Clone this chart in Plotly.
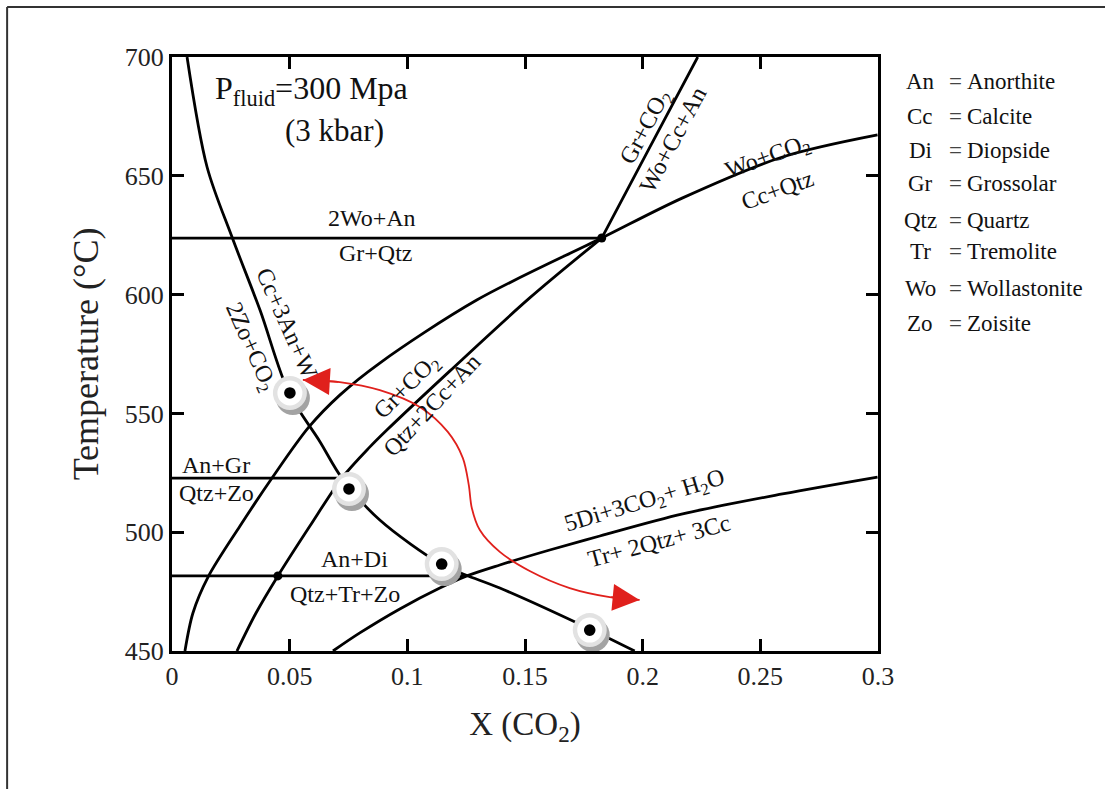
import plotly.graph_objects as go

# ---------------- data (X(CO2), Temperature °C) ----------------
zo_x = [0.0064, 0.0149, 0.0255, 0.0374, 0.0497, 0.0628, 0.0722, 0.0883, 0.1142, 0.1248, 0.1393, 0.1775, 0.1966]
zo_t = [700, 653.7, 624.2, 593.5, 558.6, 538.2, 522.8, 505.1, 486.6, 482.0, 476.5, 459.3, 450]

wo_x = [0.0055, 0.0089, 0.0153, 0.0289, 0.0425, 0.0582, 0.0713, 0.0883, 0.1295, 0.1826, 0.2170, 0.2594, 0.2998]
wo_t = [450, 466.0, 481.1, 502.6, 522.8, 544.3, 557.7, 571.2, 597.7, 623.8, 640.7, 657.9, 667.2]

gr_x = [0.0276, 0.0357, 0.0450, 0.0586, 0.0722, 0.0841, 0.0913, 0.1180, 0.1520, 0.1826]
gr_t = [450, 466.0, 481.6, 502.6, 522.8, 535.9, 543.0, 567.8, 598.6, 623.8]

up_x = [0.1826, 0.2030, 0.2234]
up_t = [623.8, 662.0, 700]

di_x = [0.0684, 0.0798, 0.0968, 0.1138, 0.1253, 0.1393, 0.1605, 0.1818, 0.2170, 0.2594, 0.2998]
di_t = [450, 457.6, 467.7, 476.5, 481.6, 486.2, 492.5, 498.4, 507.7, 516.1, 523.2]

woan_x = [0, 0.1826]
woan_t = [623.8, 623.8]
angr_x = [0, 0.0722]
angr_t = [522.8, 522.8]
andi_x = [0, 0.1248]
andi_t = [481.6, 481.6]

inv_x = [0.1826, 0.0450]
inv_t = [623.8, 481.6]

site_x = [0.0501, 0.0752, 0.1146, 0.1775]
site_t = [558.6, 518.2, 486.6, 458.8]

path_x = [0.0556, 0.0713, 0.0883, 0.1053, 0.1172, 0.1236, 0.1261, 0.1274, 0.1308,
          0.1393, 0.1520, 0.1690, 0.1860, 0.1987]
path_t = [564.1, 563.2, 559.8, 552.7, 542.2, 531.2, 519.9, 510.2, 500.9,
          491.7, 483.7, 476.5, 472.7, 471.5]

x_ticks = [0, 0.05, 0.1, 0.15, 0.2, 0.25, 0.3]
x_ticktext = ["0", "0.05", "0.1", "0.15", "0.2", "0.25", "0.3"]
y_ticks = [450, 500, 550, 600, 650, 700]

legend_abbr = ["An", "Cc", "Di", "Gr", "Qtz", "Tr", "Wo", "Zo"]
legend_name = ["Anorthite", "Calcite", "Diopside", "Grossolar", "Quartz",
               "Tremolite", "Wollastonite", "Zoisite"]

FONT = "Liberation Serif"
INK = "#111111"
RED = "#e0201c"

fig = go.Figure()

line_style = dict(color="black", width=2.8)
for xs, ts, shape in [(zo_x, zo_t, "spline"), (wo_x, wo_t, "spline"), (gr_x, gr_t, "spline"),
                      (up_x, up_t, "spline"), (di_x, di_t, "spline"),
                      (woan_x, woan_t, "linear"), (angr_x, angr_t, "linear"),
                      (andi_x, andi_t, "linear")]:
    fig.add_trace(go.Scatter(x=xs, y=ts, mode="lines",
                             line=dict(shape=shape, smoothing=0.9, **line_style),
                             hoverinfo="skip", showlegend=False))

fig.add_trace(go.Scatter(x=inv_x, y=inv_t, mode="markers",
                         marker=dict(size=9, color="black"), showlegend=False))

# red path
fig.add_trace(go.Scatter(x=path_x, y=path_t, mode="lines",
                         line=dict(color=RED, width=1.8, shape="spline", smoothing=0.9),
                         showlegend=False))

# sample sites drawn as 3-D looking discs (pixel-sized shapes anchored on the data)
shapes = []
for sx, st in zip(site_x, site_t):
    def disc(cx, cy, r, color):
        shapes.append(dict(type="circle", xref="x", yref="y", xsizemode="pixel",
                           ysizemode="pixel", xanchor=sx, yanchor=st,
                           x0=cx - r, x1=cx + r, y0=cy - r, y1=cy + r,
                           fillcolor=color, line=dict(width=0), layer="above"))
    disc(3, -5, 17, "#a3a3a3")
    disc(0, 0, 17, "#e2e2e2")
    disc(0, 0, 12.5, "#ffffff")
    disc(0, 0, 5.8, "#000000")

annotations = []

# arrow heads at both ends of red path
annotations.append(dict(x=path_x[0], y=path_t[0], ax=path_x[1], ay=path_t[1],
                        xref="x", yref="y", axref="x", ayref="y", text="",
                        showarrow=True, arrowhead=2, arrowsize=3, arrowwidth=1.8,
                        arrowcolor=RED, standoff=0))
annotations.append(dict(x=path_x[-1], y=path_t[-1], ax=path_x[-2], ay=path_t[-2],
                        xref="x", yref="y", axref="x", ayref="y", text="",
                        showarrow=True, arrowhead=2, arrowsize=3, arrowwidth=1.8,
                        arrowcolor=RED, standoff=0))


def lab(text, x, y, angle=0, size=24):
    annotations.append(dict(x=x, y=y, xref="x", yref="y", text=text, showarrow=False,
                            textangle=angle, font=dict(family=FONT, size=size, color=INK),
                            xanchor="center", yanchor="middle"))


lab("P<sub>fluid</sub>=300 Mpa", 0.0594, 686.1, size=32)
lab("(3 kbar)", 0.0692, 668.9, size=31)
lab("2Wo+An", 0.0849, 632.2)
lab("Gr+Qtz", 0.0866, 617.5)
lab("Gr+CO<sub>2</sub>", 0.2017, 670.5, -62)
lab("Wo+Cc+An", 0.2127, 665.1, -62)
lab("Wo+CO<sub>2</sub>", 0.2531, 657.5, -20)
lab("Cc+Qtz", 0.2573, 644.0, -20)
lab("Cc+3An+W", 0.0488, 588.0, 66)
lab("2Zo+CO<sub>2</sub>", 0.0331, 577.9, 66)
lab("Gr+CO<sub>2</sub>", 0.1002, 561.1, -45)
lab("Qtz+2Cc+An", 0.1104, 553.5, -47)
lab("An+Gr", 0.0187, 528.3)
lab("Qtz+Zo", 0.0187, 516.5)
lab("An+Di", 0.0777, 488.7)
lab("Qtz+Tr+Zo", 0.0735, 474.0)
lab("5Di+3CO<sub>2</sub>+ H<sub>2</sub>O", 0.2008, 512.7, -17)
lab("Tr+ 2Qtz+ 3Cc", 0.2068, 496.3, -15)

# abbreviation legend on the right
leg_py = [81.7, 116.7, 150, 183.3, 220, 251.7, 288.3, 323.3]
for ab, nm, py in zip(legend_abbr, legend_name, leg_py):
    yp = (651 - py) / 594
    annotations.append(dict(x=(921 - 172) / 706.5, y=yp, xref="paper", yref="paper", text=ab,
                            showarrow=False, xanchor="center", yanchor="middle",
                            font=dict(family=FONT, size=23, color=INK)))
    annotations.append(dict(x=(956 - 172) / 706.5, y=yp, xref="paper", yref="paper", text="=",
                            showarrow=False, xanchor="center", yanchor="middle",
                            font=dict(family=FONT, size=23, color="#444")))
    annotations.append(dict(x=(966 - 172) / 706.5, y=yp, xref="paper", yref="paper", text=nm,
                            showarrow=False, xanchor="left", yanchor="middle",
                            font=dict(family=FONT, size=23, color=INK)))

# outer picture frame (left and top)
fx = (7 - 172) / 706.5
fy = (651 - 7) / 594
shapes += [
    dict(type="line", xref="paper", yref="paper", x0=fx, y0=fy, x1=2, y1=fy,
         line=dict(color="#333", width=2)),
    dict(type="line", xref="paper", yref="paper", x0=fx, y0=fy, x1=fx, y1=-2,
         line=dict(color="#333", width=2)),
]

axis_common = dict(showline=True, linecolor="black", linewidth=3, mirror="allticks",
                   ticks="inside", ticklen=12, tickwidth=3, tickcolor="black",
                   showgrid=False, zeroline=False,
                   tickfont=dict(family=FONT, size=26, color="#222"))

fig.update_layout(
    width=1105, height=789,
    margin=dict(l=172, r=226.5, t=57, b=138),
    paper_bgcolor="white", plot_bgcolor="white",
    showlegend=False,
    annotations=annotations,
    shapes=shapes,
    xaxis=dict(range=[0, 0.3], tickvals=x_ticks, ticktext=x_ticktext,
               title=dict(text="X (CO<sub>2</sub>)", standoff=22,
                          font=dict(family=FONT, size=33, color="#222")),
               **axis_common),
    yaxis=dict(range=[450, 700], tickvals=y_ticks,
               title=dict(text="Temperature (°C)", standoff=16,
                          font=dict(family=FONT, size=36, color="#222")),
               **axis_common),
)

fig.write_html("out.html")
